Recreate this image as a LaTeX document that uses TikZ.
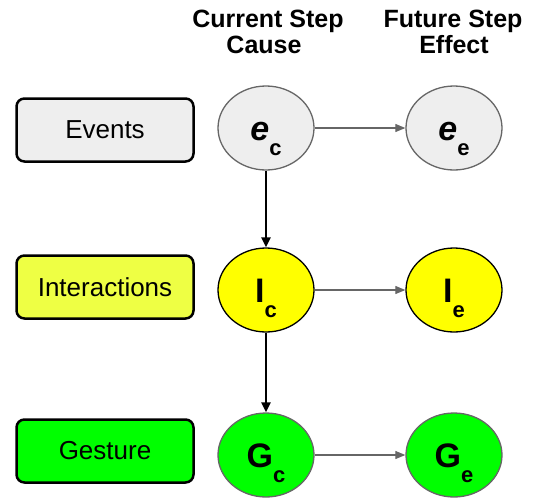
\documentclass[tikz,border=0pt]{standalone}
\usepackage{fontspec}
\setmainfont{Liberation Sans}
\usetikzlibrary{arrows.meta, positioning, shapes.geometric}
\definecolor{evgray}{HTML}{EEEEEE}
\definecolor{intyel}{HTML}{EEFF44}
\definecolor{gesgrn}{HTML}{00FF00}
\definecolor{stepyel}{HTML}{FFFF00}
\definecolor{edgegray}{HTML}{666666}
% letter with its lowered index, centred on the node
\newcommand{\stepvar}[2]{\smash{\raisebox{-12pt}{\fontsize{34}{34}\selectfont\bfseries #1\raisebox{-15pt}{\fontsize{22}{22}\selectfont #2}}}}

\begin{document}
\begin{tikzpicture}[x=1pt, y=-1pt,
    lvl/.style={draw, line width=2.5pt, rounded corners=8pt, minimum width=177pt, minimum height=63pt, inner sep=0pt, font=\fontsize{26}{30}\selectfont},
    var/.style={ellipse, draw, line width=1.3pt, minimum width=96pt, minimum height=84pt, inner sep=0pt},
    head/.style={anchor=base, font=\fontsize{25}{28}\selectfont\bfseries},
    flow/.style={draw=edgegray, line width=1.1pt, -{Triangle[length=10pt, width=8pt]}},
    down/.style={draw=black, line width=2.4pt, -{Triangle[length=10pt, width=9pt]}}]
  \useasboundingbox (0,0) rectangle (544,499);
  \node[head] (cur) at (268,27) {Current Step};
  \node[head] (cause) at (264,53) {Cause};
  \node[head] (fut) at (453,27) {Future Step};
  \node[head] (effect) at (454,53) {Effect};

  \node[lvl, fill=evgray] (events) at (105,130) {Events};
  \node[lvl, fill=intyel] (inter) at (105,287) {Interactions};
  \node[lvl, fill=gesgrn] (gest) at (105,451) {Gesture};

  \node[var, draw=edgegray, fill=evgray] (ec) at (266,128) {\stepvar{{\itshape e}}{c}};
  \node[var, draw=edgegray, fill=evgray] (ee) at (454,128) {\stepvar{{\itshape e}}{e}};
  \node[var, draw=black, fill=stepyel] (ic) at (266,290) {\stepvar{I}{c}};
  \node[var, draw=black, fill=stepyel] (ie) at (454,290) {\stepvar{I}{e}};
  \node[var, draw=edgegray, fill=gesgrn] (gc) at (266,455) {\stepvar{G}{c}};
  \node[var, draw=edgegray, fill=gesgrn] (ge) at (454,455) {\stepvar{G}{e}};

  \draw[flow] (ec) -- (ee);
  \draw[flow] (ic) -- (ie);
  \draw[flow] (gc) -- (ge);
  \draw[down] (ec) -- (ic);
  \draw[down] (ic) -- (gc);
\end{tikzpicture}
\end{document}
